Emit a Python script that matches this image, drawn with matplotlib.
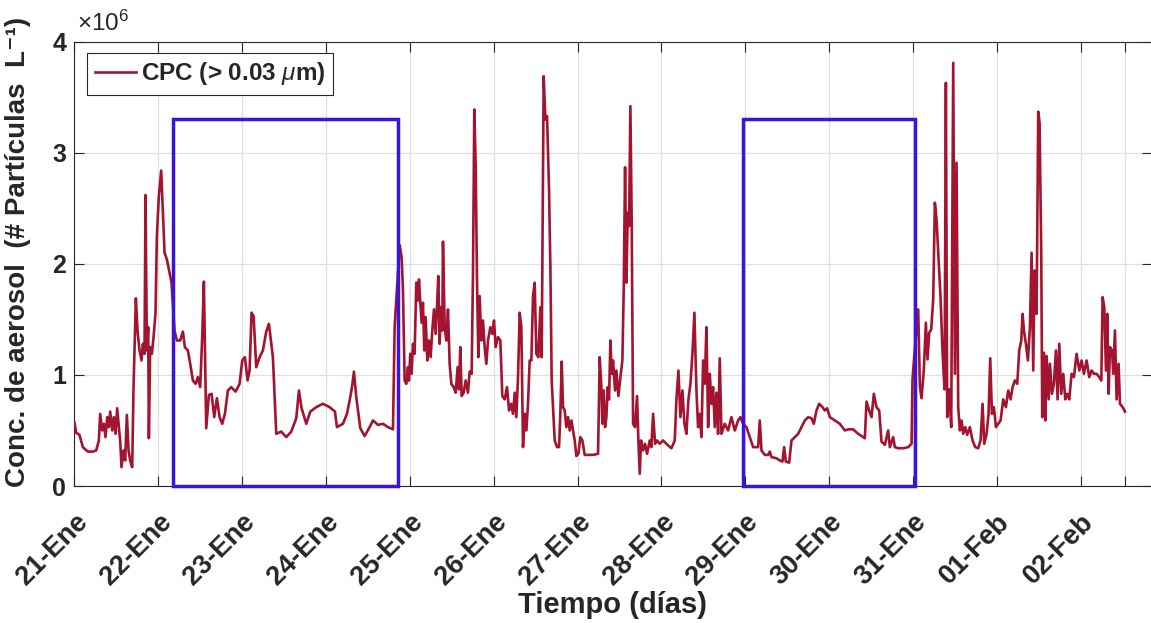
import matplotlib
matplotlib.use("Agg")
import matplotlib.pyplot as plt
from matplotlib.patches import Rectangle
from matplotlib.transforms import ScaledTranslation
import numpy as np

# fonts: Helvetica-like, also for the mathtext bits
plt.rcParams['font.family'] = ['Liberation Sans', 'DejaVu Sans']
plt.rcParams['mathtext.fontset'] = 'custom'
plt.rcParams['mathtext.rm'] = 'Liberation Sans'
plt.rcParams['mathtext.it'] = 'Liberation Sans:italic'
plt.rcParams['mathtext.bf'] = 'Liberation Sans:bold'

# ---- data: hours since 21-Ene 00:00, concentration in 1e6 particles / L ----
# 21-Ene to 24-Ene
hours_a = [0, 0.48, 1.43, 2.39, 3.82, 5.25, 6.21, 6.97, 7.35, 7.92,
           8.40, 8.88, 9.36, 9.83, 10.22, 10.79, 11.27, 11.74, 12.22, 12.70,
           13.08, 13.46, 14.03, 14.51, 14.99, 15.47, 15.94, 16.52, 16.90, 17.57,
           18.04, 18.62, 19.19, 19.57, 20.05, 20.33, 20.72, 21.10, 21.29, 21.67,
           22.15, 22.63, 23.20, 23.58, 24.15, 24.82, 25.30, 25.78, 26.45, 27.21,
           27.78, 28.64, 29.31, 30.26, 31.03, 31.60, 32.46, 33.13, 33.89, 34.66,
           35.32, 35.99, 36.56, 37.04, 37.71, 38.47, 39.24, 40.00, 40.77, 41.53,
           42.29, 43.06, 43.92, 44.87, 46.11, 47.26, 48.02, 48.78, 49.55, 50.12,
           50.69, 51.27, 52.03, 52.99, 53.94, 54.89, 55.66, 56.80, 57.76, 59.19,
           60.62, 62.06, 63.49, 64.25, 65.01, 66.35, 67.50, 69.21, 71.12, 73.03,
           74.56, 75.13, 76.85, 78.00, 78.95, 79.53, 80.00, 80.67, 81.82, 83.06,
           84.49, 85.45, 86.88, 88.31, 89.74, 91.17, 91.65, 93.08]
conc_a = [0.57, 0.48, 0.46, 0.35, 0.31, 0.31, 0.32, 0.41, 0.65, 0.50,
          0.56, 0.44, 0.62, 0.53, 0.67, 0.50, 0.62, 0.47, 0.70, 0.53,
          0.41, 0.17, 0.32, 0.23, 0.64, 0.32, 0.23, 0.17, 0.89, 1.69,
          1.40, 1.22, 1.13, 1.28, 1.19, 2.62, 1.22, 1.43, 0.43, 1.25,
          1.19, 1.34, 1.56, 2.25, 2.61, 2.84, 2.46, 2.10, 2.04, 1.92,
          1.83, 1.40, 1.31, 1.31, 1.39, 1.25, 1.22, 1.10, 0.95, 0.92,
          0.98, 0.89, 1.34, 1.84, 0.52, 0.82, 0.83, 0.62, 0.79, 0.62,
          0.56, 0.65, 0.86, 0.89, 0.85, 0.92, 1.13, 1.16, 0.95, 1.04,
          1.56, 1.53, 1.07, 1.16, 1.22, 1.39, 1.46, 1.16, 0.47, 0.49,
          0.44, 0.49, 0.61, 0.86, 0.70, 0.56, 0.67, 0.71, 0.74, 0.71,
          0.67, 0.53, 0.56, 0.65, 0.80, 0.91, 1.03, 0.80, 0.52, 0.45,
          0.53, 0.59, 0.55, 0.56, 0.53, 0.51, 1.43, 2.17]

# 25-Ene to 28-Ene
hours_b = [93.65, 94.03, 94.51, 94.99, 95.46, 95.75, 96.13, 96.51, 96.90, 97.37,
           97.85, 98.33, 98.62, 99.00, 99.38, 99.76, 100.14, 100.53, 101.00, 101.48,
           101.96, 102.43, 102.91, 103.39, 103.77, 104.15, 104.53, 104.92, 105.30, 105.49,
           105.97, 106.44, 106.92, 107.40, 107.88, 108.54, 109.12, 109.69, 110.07, 110.45,
           110.84, 111.41, 111.98, 112.65, 113.13, 113.70, 114.08, 114.46, 114.85, 115.23,
           115.61, 115.99, 116.47, 116.95, 117.42, 117.90, 118.38, 119.05, 119.62, 120.10,
           120.57, 121.24, 121.91, 122.48, 123.15, 123.82, 124.39, 124.97, 125.54, 126.02,
           126.49, 126.97, 127.45, 127.92, 128.40, 128.88, 129.36, 129.83, 130.31, 130.79,
           131.27, 131.74, 132.22, 132.79, 133.37, 133.75, 134.32, 134.80, 135.28, 135.85,
           136.23, 136.61, 136.99, 137.47, 138.14, 138.71, 139.09, 139.48, 139.86, 140.34,
           140.81, 141.29, 141.77, 142.25, 142.72, 143.20, 143.68, 144.25, 144.82, 145.40,
           146.06, 147.02, 148.45, 149.88, 150.36, 150.84, 151.12, 151.51, 151.89, 152.27,
           152.65, 153.03, 153.42, 153.80, 154.18, 154.75, 155.13, 155.71, 156.28, 156.85,
           157.23, 157.62, 158.00, 158.38, 158.76, 159.14, 159.53, 159.91, 160.48, 161.05,
           161.43, 161.82, 162.20, 162.77, 163.34, 163.92, 164.68, 165.16, 165.64, 166.21,
           166.78, 167.54, 168.50, 169.45, 170.89, 171.84, 172.32, 172.89, 173.46, 174.04,
           174.61, 175.18, 175.76, 176.33, 176.90, 177.47, 178.05, 178.52, 179.00, 179.48,
           179.96, 180.43, 180.91, 181.39, 181.87, 182.34, 182.82, 183.30, 183.77, 184.25,
           184.73, 185.21, 186.16, 187.12, 188.07, 189.03, 189.98, 190.65, 191.41, 192.37,
           193.32, 194.28, 195.71]
conc_b = [2.06, 1.77, 0.95, 0.92, 1.07, 0.95, 1.19, 1.01, 1.28, 1.19,
          1.83, 1.67, 1.86, 1.65, 1.47, 1.65, 1.22, 1.52, 1.13, 1.31,
          1.16, 1.40, 1.59, 1.37, 1.61, 1.89, 1.28, 1.61, 1.40, 2.20,
          1.43, 1.31, 1.59, 1.10, 0.92, 0.89, 0.84, 1.07, 0.87, 1.25,
          0.81, 0.84, 0.95, 0.84, 1.03, 1.01, 1.92, 3.39, 2.88, 1.86,
          1.16, 1.71, 1.31, 1.49, 1.25, 1.10, 1.31, 1.43, 1.37, 1.49,
          1.25, 1.34, 1.31, 0.81, 0.78, 0.89, 0.68, 0.74, 0.65, 0.84,
          0.62, 0.98, 1.56, 1.43, 0.35, 0.65, 0.50, 0.74, 1.13, 1.13,
          1.71, 1.83, 1.19, 1.16, 1.61, 1.16, 3.69, 3.30, 3.33, 2.67,
          1.98, 0.95, 0.71, 0.41, 0.35, 0.35, 0.65, 1.12, 0.71, 0.68,
          0.53, 0.62, 0.50, 0.59, 0.50, 0.41, 0.27, 0.29, 0.44, 0.41,
          0.28, 0.28, 0.28, 0.29, 1.16, 0.89, 0.56, 0.86, 0.53, 0.62,
          0.89, 0.78, 1.31, 1.01, 1.13, 0.86, 1.04, 0.81, 0.98, 1.13,
          1.77, 2.87, 1.83, 2.46, 2.34, 3.42, 2.34, 0.56, 0.53, 0.81,
          0.41, 0.11, 0.41, 0.32, 0.38, 0.29, 0.41, 0.35, 0.65, 0.38,
          0.41, 0.38, 0.41, 0.38, 0.34, 0.41, 0.78, 1.04, 0.62, 0.86,
          0.56, 0.47, 0.78, 0.92, 1.19, 1.56, 0.86, 0.53, 0.65, 0.44,
          1.13, 0.92, 1.43, 0.53, 1.01, 0.74, 0.89, 0.53, 0.84, 0.47,
          1.15, 0.47, 0.56, 0.50, 0.62, 0.50, 0.59, 0.62, 0.56, 0.53,
          0.44, 0.35, 0.35]

# 29-Ene to 02-Feb
hours_c = [196.19, 196.67, 197.62, 198.57, 199.05, 199.53, 200.96, 201.92, 202.68, 203.16,
           203.63, 204.59, 205.26, 206.21, 207.17, 208.12, 209.08, 210.03, 210.99, 211.65,
           212.42, 213.18, 214.14, 214.80, 215.47, 216.24, 217.67, 219.10, 220.53, 221.49,
           222.92, 224.35, 226.26, 226.74, 227.50, 228.17, 228.84, 229.60, 230.37, 231.03,
           231.99, 232.94, 233.42, 234.38, 234.85, 235.81, 237.24, 238.67, 239.63, 239.91,
           240.49, 241.54, 242.01, 242.49, 243.16, 243.73, 244.21, 244.69, 245.26, 245.83,
           246.31, 246.79, 247.36, 247.93, 248.51, 249.08, 249.46, 249.84, 250.42, 250.99,
           251.56, 252.04, 252.52, 252.99, 253.47, 253.95, 254.42, 255.00, 255.57, 256.33,
           257.10, 257.86, 258.72, 259.39, 259.96, 260.44, 261.11, 261.68, 262.16, 262.64,
           263.21, 263.78, 264.45, 265.12, 265.88, 266.64, 267.31, 267.98, 268.55, 269.22,
           269.89, 270.46, 271.04, 271.42, 271.80, 272.37, 272.95, 273.52, 274.00, 274.47,
           274.85, 275.43, 275.90, 276.29, 276.76, 277.05, 277.53, 277.91, 278.29, 278.87,
           279.25, 279.82, 280.39, 280.97, 281.44, 281.92, 282.49, 283.07, 283.64, 284.21,
           284.78, 285.45, 286.12, 286.88, 287.65, 288.32, 288.98, 289.75, 290.51, 291.18,
           291.85, 292.61, 293.38, 293.95, 294.33, 294.81, 295.29, 295.67, 296.05, 296.43,
           297.01, 297.39, 297.86, 298.34, 298.91, 299.30, 300.06, 300.73]
conc_c = [0.59, 0.32, 0.28, 0.28, 0.31, 0.26, 0.25, 0.23, 0.22, 0.35,
          0.22, 0.21, 0.41, 0.44, 0.47, 0.53, 0.59, 0.62, 0.61, 0.56,
          0.68, 0.74, 0.71, 0.68, 0.70, 0.62, 0.59, 0.56, 0.50, 0.51,
          0.51, 0.47, 0.43, 0.76, 0.68, 0.62, 0.83, 0.71, 0.68, 0.40,
          0.37, 0.50, 0.35, 0.44, 0.35, 0.34, 0.34, 0.35, 0.38, 0.96,
          1.20, 1.59, 0.90, 0.79, 1.05, 1.47, 1.14, 1.38, 1.41, 1.68,
          2.55, 2.40, 2.04, 1.70, 1.20, 0.87, 3.63, 0.62, 0.87, 0.53,
          3.81, 1.01, 2.91, 0.71, 0.50, 0.59, 0.47, 0.53, 0.46, 0.53,
          0.41, 0.35, 0.34, 0.41, 0.74, 0.38, 0.47, 0.65, 1.15, 0.65,
          0.71, 0.53, 0.56, 0.59, 0.78, 0.71, 0.86, 0.78, 0.89, 0.95,
          0.92, 1.22, 1.31, 1.55, 1.40, 1.28, 1.13, 1.43, 2.10, 1.04,
          1.94, 1.55, 3.37, 3.27, 2.10, 0.62, 1.20, 0.59, 1.17, 0.78,
          1.10, 0.83, 0.92, 1.22, 0.78, 1.28, 0.83, 1.01, 0.78, 0.83,
          0.78, 1.01, 0.98, 1.19, 1.04, 1.13, 1.01, 1.13, 0.98, 1.04,
          1.01, 1.01, 0.98, 0.95, 1.70, 1.61, 1.04, 1.55, 0.83, 1.25,
          1.22, 1.01, 1.40, 0.78, 1.10, 0.74, 0.71, 0.67]

# highlighted periods (hours) and box height (1e6)
box_start = [28.2, 191.4]
box_end = [92.6, 240.6]
box_top = 3.3

day_labels = ['21-Ene', '22-Ene', '23-Ene', '24-Ene', '25-Ene', '26-Ene', '27-Ene',
              '28-Ene', '29-Ene', '30-Ene', '31-Ene', '01-Feb', '02-Feb']

hours = np.array(hours_a + hours_b + hours_c)
conc = np.array(conc_a + conc_b + conc_c)

red = '#A2142F'
blue = '#3A13DC'
dark = '#262626'

fig = plt.figure(figsize=(11.51, 6.23), dpi=100)
ax = fig.add_axes([74.5 / 1151, 1 - 486 / 623, (1152 - 74.5) / 1151, (486 - 41.7) / 623])

ax.plot(hours, conc, color=red, lw=1.9, label=r'CPC (> 0.03 $\mu$m)', zorder=3)

for s, e in zip(box_start, box_end):
    ax.add_patch(Rectangle((s, 0), e - s, box_top, fill=False, edgecolor=blue,
                           lw=2.5, zorder=4, clip_on=False))

ax.set_xlim(0, 288 / 1006 * (1152 - 74.5))
ax.set_ylim(0, 4)

xt = [24 * i for i in range(len(day_labels))] + [hours[-1]]
ax.set_xticks(xt)
ax.set_xticklabels(day_labels + [''], rotation=45, ha='right', va='top',
                   rotation_mode='anchor', fontsize=19.5, fontweight='bold', color=dark)
ax.set_yticks([0, 1, 2, 3, 4])
ax.set_yticklabels(['0', '1', '2', '3', '4'], fontsize=18, fontweight='bold', color=dark)

shift = ScaledTranslation(14 / 100, 0, fig.dpi_scale_trans)
for lab in ax.get_xticklabels():
    lab.set_transform(lab.get_transform() + shift)

ax.tick_params(direction='in', length=7.5, width=0.8, top=True, right=True,
               colors=dark, labelcolor=dark)
ax.tick_params(axis='x', pad=16.5)
ax.tick_params(axis='y', pad=6)
ax.grid(True, color='#DFDFDF', lw=0.9, zorder=0)
ax.set_axisbelow(True)
for sp in ax.spines.values():
    sp.set_color(dark)
    sp.set_linewidth(0.8)

ax.set_xlabel('Tiempo (días)', fontsize=21, fontweight='bold', color=dark)
ax.xaxis.set_label_coords(0.4995, -0.236)
ax.xaxis.label.set_va('top')
ax.set_ylabel('Conc. de aerosol  (# Partículas  L⁻¹)', fontsize=20,
              fontweight='bold', color=dark)
ax.yaxis.set_label_coords(-0.040, 0.526)

ax.text(0.002, 1.012, r'$\times$10$^{6}$', transform=ax.transAxes, fontsize=17.5,
        color=dark, ha='left', va='bottom')

leg = ax.legend(loc='upper left', bbox_to_anchor=(0.012, 0.9745), borderaxespad=0,
                fancybox=False, framealpha=1, edgecolor=dark, handlelength=1.7,
                handletextpad=0.2, borderpad=0.3,
                prop={'weight': 'bold', 'size': 17.5})
leg.get_frame().set_linewidth(0.8)
for t in leg.get_texts():
    t.set_color(dark)

fig.savefig('out.png', dpi=100)
